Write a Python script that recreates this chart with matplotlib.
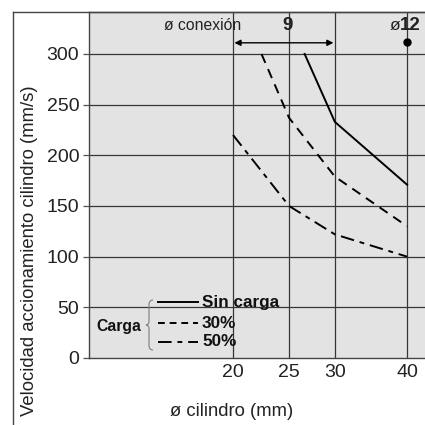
import matplotlib
matplotlib.use("Agg")
import matplotlib.pyplot as plt
from matplotlib.lines import Line2D
from matplotlib.path import Path
from matplotlib.patches import PathPatch

plt.rcParams['font.family'] = ['Liberation Sans', 'DejaVu Sans']

# ---- data ----
x_ticks = [20, 25, 30, 40]
y_ticks = [0, 50, 100, 150, 200, 250, 300]
sin_carga_x = [26.6, 30, 40]
sin_carga_y = [300, 233, 171]
c30_x = [22.4, 25, 30, 40]
c30_y = [300, 237, 179, 130]
c50_x = [20, 25, 30, 40]
c50_y = [220, 150, 122, 100]
conexion_range = [20, 30]
conexion_y = 311
phi12_point = (40, 312)
legend_labels = ['Sin carga', '30%', '50%']

W = H = 425
fig = plt.figure(figsize=(4.25, 4.25), dpi=100)

def fx(px):
    return px / W

def fy(py):
    return 1 - py / H

ax = fig.add_axes([fx(89), fy(358), fx(425) - fx(89), fy(12) - fy(358)])
ax.set_facecolor('#e3e3e3')
ax.set_xscale('log')
ax.set_xlim(11.27, 42.96)
ax.set_ylim(0, 341.4)

grid_c = '#363636'
for yv in y_ticks[1:]:
    ax.axhline(yv, color=grid_c, lw=0.9, zorder=1)
for xv in x_ticks:
    ax.axvline(xv, color=grid_c, lw=0.9, zorder=1)

ax.set_xticks(x_ticks)
ax.set_xticklabels([str(v) for v in x_ticks])
ax.xaxis.set_minor_locator(matplotlib.ticker.NullLocator())
ax.set_yticks(y_ticks)
ax.tick_params(axis='x', length=0, pad=4, labelsize=14, labelcolor='#222')
ax.tick_params(axis='y', length=4, width=0.9, pad=3, labelsize=14,
               colors='#555', labelcolor='#222')

ax.spines['right'].set_visible(False)
for s in ['left', 'bottom', 'top']:
    ax.spines[s].set_color('#444')
    ax.spines[s].set_linewidth(1.0)

lw = 1.4
ax.plot(sin_carga_x, sin_carga_y, color='black', lw=lw, zorder=3)
ax.plot(c30_x, c30_y, color='black', lw=lw, dashes=(5, 3.5), zorder=3)
ax.plot(c50_x, c50_y, color='black', lw=lw, dashes=(7, 3, 2.5, 3), zorder=3)

# connection annotation
ax.annotate('', xy=(conexion_range[1], conexion_y), xytext=(conexion_range[0], conexion_y),
            arrowprops=dict(arrowstyle='<|-|>', color='black', lw=1.0,
                            mutation_scale=9, shrinkA=1, shrinkB=1), zorder=4)
ax.plot([phi12_point[0]], [phi12_point[1]], 'o', color='black', ms=5, zorder=4)

fig.text(fx(203), fy(26), 'ø conexión', ha='center', va='center', fontsize=11.3, color='#222')
fig.text(fx(288), fy(26), '9', ha='center', va='center', fontsize=13.5, fontweight='bold', color='#222')
fig.text(fx(400), fy(26), 'ø', ha='right', va='center', fontsize=12.5, color='#222')
fig.text(fx(400), fy(26), '12', ha='left', va='center', fontsize=13.5, fontweight='bold', color='#222')

# outer frame
fig.add_artist(Line2D([fx(13), fx(13)], [fy(12), fy(425)], color='#444', lw=1.0))
fig.add_artist(Line2D([fx(13), fx(425)], [fy(12), fy(12)], color='#444', lw=1.0))

# axis labels
fig.text(fx(30), fy(251), 'Velocidad accionamiento cilindro (mm/s)', rotation=90,
         ha='center', va='center', fontsize=13.3, color='#222')
fig.text(fx(232), fy(412), 'ø cilindro (mm)', ha='center', va='center', fontsize=13.3, color='#222')

# legend
leg_y = [302, 323, 342]
styles = [dict(), dict(dashes=(3.5, 2.5)), dict(dashes=(7, 3, 2.5, 3))]
for yy, lab, st in zip(leg_y, legend_labels, styles):
    fig.add_artist(Line2D([fx(158), fx(198)], [fy(yy), fy(yy)], color='black', lw=1.4, **st))
    fig.text(fx(202), fy(yy), lab, ha='left', va='center', fontsize=12.3,
             fontweight='bold', color='#111')
fig.text(fx(119), fy(327), 'Carga', ha='center', va='center', fontsize=11.3,
         fontweight='bold', color='#111')

verts = [(fx(153), fy(300)), (fx(149), fy(300)), (fx(149), fy(305)),
         (fx(149), fy(321)),
         (fx(149), fy(325)), (fx(146), fy(325)),
         (fx(149), fy(325)), (fx(149), fy(329)),
         (fx(149), fy(345)),
         (fx(149), fy(350)), (fx(153), fy(350))]
codes = [Path.MOVETO, Path.CURVE3, Path.CURVE3,
         Path.LINETO,
         Path.CURVE3, Path.CURVE3,
         Path.CURVE3, Path.CURVE3,
         Path.LINETO,
         Path.CURVE3, Path.CURVE3]
fig.add_artist(PathPatch(Path(verts, codes), transform=fig.transFigure,
                         facecolor='none', edgecolor='#888', lw=0.9))

fig.savefig('out.png', dpi=100)
